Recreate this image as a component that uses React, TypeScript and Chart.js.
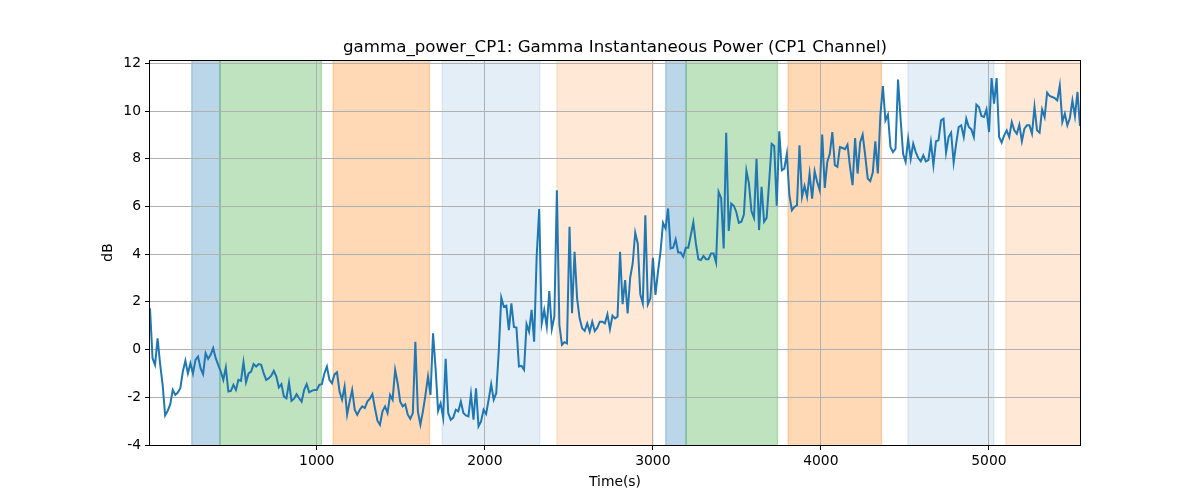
import { useEffect, useRef } from "react";
import { Chart, registerables } from "chart.js";

Chart.register(...registerables);

const TITLE = "gamma_power_CP1: Gamma Instantaneous Power (CP1 Channel)";
const X_LABEL = "Time(s)";
const Y_LABEL = "dB";
const X_TICKS = [1000, 2000, 3000, 4000, 5000];
const Y_TICKS = [-4, -2, 0, 2, 4, 6, 8, 10, 12];
const Y_MIN = -4;
const Y_MAX = 12.14;

// sample times: one value every T_STEP seconds starting at T_START
const T_START = 7.5;
const T_STEP = 15.04;

const POWER_A = [1.73, -0.36, -0.64, 0.47, -0.6, -1.48, -2.76, -2.57, -2.3, -1.69, -1.9, -1.8, -1.62, -0.92, -0.47, -1.0, -0.57, -1.0, -0.43, -0.29, -0.78, -1.03, -0.15, -0.39, -0.22, 0.06, -0.36, -0.64, -0.92, -1.27, -0.75, -1.76, -1.73, -1.48, -1.69, -1.27, -1.31, -0.53, -1.37, -1.0, -0.92, -0.61, -0.71, -0.61, -0.64, -1.0, -1.27, -1.2, -1.09, -0.89, -1.13, -1.59, -1.45, -1.97, -2.04, -1.38, -2.15, -2.06, -1.87, -2.04, -2.18, -1.69, -1.45, -1.79];
const POWER_B = [-1.73, -1.69, -1.69, -1.48, -1.45, -1.0, -0.71, -1.27, -1.41, -1.04, -0.95, -1.76, -2.1, -1.55, -2.73, -2.18, -1.69, -2.52, -2.73, -2.52, -2.38, -2.45, -2.18, -2.06, -1.87, -2.45, -2.98, -3.15, -2.59, -2.38, -2.66, -1.9, -2.1, -0.85, -1.41, -2.18, -2.38, -2.29, -2.73, -2.9, -2.66, 0.33, -2.59, -3.15, -2.59, -1.9, -1.13, -1.9, 0.68, -0.78, -2.57, -2.25, -2.85, -0.39, -2.66, -2.94, -2.85, -2.52, -2.59, -2.18];
const POWER_C = [-2.66, -2.76, -2.8, -1.87, -2.94, -1.62, -3.22, -3.01, -2.52, -2.7, -2.1, -1.45, -2.1, -1.83, -0.08, 2.18, 1.8, 1.84, 0.81, 1.94, 0.95, 0.92, -0.71, -0.68, -0.85, 1.06, 0.75, 1.67, 0.33, 3.89, 5.89, 1.1, 1.66, 0.96, 2.45, 0.86, 1.38, 6.68, 1.03, 0.2, 0.31, 0.26, 5.15, 1.52, 4.1, 2.15, 1.31, 0.89, 0.78, 1.1, 0.75, 1.17, 0.78, 0.92, 1.17, 1.17, 1.1, 1.48, 0.86];
const POWER_D = [1.42, 1.31, 1.38, 4.1, 1.9, 2.91, 1.52, 3.01, 3.61, 4.9, 4.45, 2.32, 1.94, 5.63, 1.9, 2.15, 3.85, 2.29, 3.26, 4.1, 5.31, 5.08, 5.91, 4.24, 4.27, 4.62, 4.07, 4.07, 3.89, 4.27, 4.27, 4.8, 5.33, 4.45, 3.79, 3.75, 3.92, 3.79, 3.79, 4.03, 4.03, 3.65, 6.61, 6.36, 4.24, 9.09, 4.97, 6.12, 6.03, 5.77, 5.31, 5.36, 5.66, 7.5, 6.96, 5.8, 5.52, 8.0, 5.01];
const POWER_E = [6.82, 5.36, 5.52, 7.03, 8.63, 8.54, 6.03, 9.15, 7.52, 7.59, 8.21, 6.47, 5.84, 5.98, 6.05, 8.56, 6.4, 6.86, 6.4, 7.38, 6.33, 7.48, 7.03, 6.68, 9.01, 6.78, 7.87, 8.21, 9.12, 7.73, 7.66, 8.49, 8.45, 8.4, 8.59, 7.66, 6.89, 8.87, 7.38, 8.68, 9.01, 8.14, 7.17, 7.06, 7.42, 8.73, 7.38, 9.82, 11.05, 9.61, 9.85, 8.49, 8.28, 8.42, 11.32, 9.68, 8.21, 7.87, 8.84, 8.0];
const POWER_F = [8.63, 8.28, 8.03, 7.89, 8.14, 7.89, 7.94, 8.7, 7.73, 8.73, 8.77, 9.61, 9.68, 8.26, 8.91, 9.09, 7.84, 8.63, 9.33, 9.4, 8.91, 9.68, 9.33, 9.23, 8.91, 10.27, 10.17, 9.79, 9.75, 10.07, 9.12, 11.38, 10.31, 11.38, 8.91, 8.68, 8.98, 9.19, 8.91, 9.54, 9.19, 9.05, 9.43, 8.73, 9.26, 9.4, 9.4, 9.05, 10.17, 9.19, 9.09, 10.07, 9.75, 10.77, 10.63, 10.59, 10.54, 10.45, 11.07, 9.54, 9.89, 9.4, 9.71, 10.45, 9.79, 10.8, 9.37];

const SPAN_START = [256, 424, 1097, 1746, 2429, 3077, 3198, 3805, 4518, 5101];
const SPAN_END = [424, 1028, 1671, 2327, 3002, 3198, 3742, 4361, 5030, 5600];
const SPAN_COLOR = [
  "rgba(31,119,180,0.3)",
  "rgba(44,160,44,0.3)",
  "rgba(255,127,14,0.3)",
  "rgba(31,119,180,0.12)",
  "rgba(255,127,14,0.17)",
  "rgba(31,119,180,0.3)",
  "rgba(44,160,44,0.3)",
  "rgba(255,127,14,0.3)",
  "rgba(31,119,180,0.12)",
  "rgba(255,127,14,0.17)",
];

const FONT = "'DejaVu Sans', Verdana, sans-serif";

export default function App() {
  const ref = useRef<HTMLCanvasElement | null>(null);

  useEffect(() => {
    const canvas = ref.current;
    if (!canvas) return;
    const values = [...POWER_A, ...POWER_B, ...POWER_C, ...POWER_D, ...POWER_E, ...POWER_F];
    const times = values.map((_, i) => T_START + i * T_STEP);
    const points = values.map((v, i) => ({ x: times[i], y: v }));
    const xMin = times[0];
    const xMax = times[times.length - 1];

    const spansPlugin = {
      id: "spans",
      beforeDraw(chart: any) {
        const { ctx, chartArea } = chart;
        const xs = chart.scales.x;
        ctx.save();
        ctx.beginPath();
        ctx.rect(chartArea.left, chartArea.top, chartArea.right - chartArea.left, chartArea.bottom - chartArea.top);
        ctx.clip();
        for (let i = 0; i < SPAN_START.length; i++) {
          const a = xs.getPixelForValue(SPAN_START[i]);
          const b = xs.getPixelForValue(SPAN_END[i]);
          ctx.fillStyle = SPAN_COLOR[i];
          ctx.fillRect(a, chartArea.top, b - a, chartArea.bottom - chartArea.top);
          ctx.strokeStyle = SPAN_COLOR[i];
          ctx.lineWidth = 1.3;
          ctx.beginPath();
          ctx.moveTo(a, chartArea.top);
          ctx.lineTo(a, chartArea.bottom);
          ctx.moveTo(b, chartArea.top);
          ctx.lineTo(b, chartArea.bottom);
          ctx.stroke();
        }
        ctx.restore();
      },
    };

    const framePlugin = {
      id: "frame",
      afterDraw(chart: any) {
        const { ctx, chartArea } = chart;
        ctx.save();
        ctx.strokeStyle = "#000";
        ctx.lineWidth = 1;
        ctx.strokeRect(
          Math.round(chartArea.left) - 0.5,
          Math.round(chartArea.top) + 0.5,
          Math.round(chartArea.right - chartArea.left) + 1,
          Math.round(chartArea.bottom - chartArea.top)
        );
        ctx.fillStyle = "#000";
        ctx.textAlign = "center";
        ctx.textBaseline = "alphabetic";
        ctx.font = `16.67px ${FONT}`;
        const cx = (chartArea.left + chartArea.right) / 2;
        ctx.fillText(TITLE, cx, 52);
        ctx.font = `13.89px ${FONT}`;
        ctx.fillText(X_LABEL, cx, 486);
        ctx.translate(112, (chartArea.top + chartArea.bottom) / 2);
        ctx.rotate(-Math.PI / 2);
        ctx.fillText(Y_LABEL, 0, 0);
        ctx.restore();
      },
    };

    const chart = new Chart(canvas, {
      type: "line",
      data: {
        datasets: [
          {
            data: points,
            borderColor: "#1f77b4",
            borderWidth: 2,
            pointRadius: 0,
            tension: 0,
            fill: false,
          },
        ],
      },
      options: {
        animation: false,
        responsive: false,
        devicePixelRatio: 1,
        layout: { padding: { left: 0, right: 120, top: 60, bottom: 0 } },
        plugins: {
          legend: { display: false },
          tooltip: { enabled: false },
          title: { display: false },
        },
        scales: {
          x: {
            type: "linear",
            min: xMin,
            max: xMax,
            afterFit: (s: any) => {
              s.height = 55;
            },
            afterBuildTicks: (s: any) => {
              s.ticks = X_TICKS.map((v) => ({ value: v }));
            },
            grid: {
              color: "#b0b0b0",
              lineWidth: 1,
              drawTicks: true,
              tickLength: 5,
              tickColor: "#000",
              tickWidth: 1,
            },
            border: { display: false },
            ticks: {
              color: "#000",
              font: { family: FONT, size: 13.89 },
              padding: 3,
              maxRotation: 0,
              autoSkip: false,
              callback: (v: any) => String(v),
            },
          },
          y: {
            type: "linear",
            min: Y_MIN,
            max: Y_MAX,
            afterFit: (s: any) => {
              s.width = 150;
            },
            afterBuildTicks: (s: any) => {
              s.ticks = Y_TICKS.map((v) => ({ value: v }));
            },
            grid: {
              color: "#b0b0b0",
              lineWidth: 1,
              drawTicks: true,
              tickLength: 5,
              tickColor: "#000",
              tickWidth: 1,
            },
            border: { display: false },
            ticks: {
              color: "#000",
              font: { family: FONT, size: 13.89 },
              padding: 4,
              autoSkip: false,
              callback: (v: any) => String(v),
            },
          },
        },
      },
      plugins: [spansPlugin, framePlugin],
    });
    return () => chart.destroy();
  }, []);

  return (
    <div style={{ position: "absolute", left: 0, top: 0, width: 1200, height: 500, background: "#fff" }}>
      <canvas ref={ref} width={1200} height={500} style={{ width: 1200, height: 500, display: "block" }} />
    </div>
  );
}
